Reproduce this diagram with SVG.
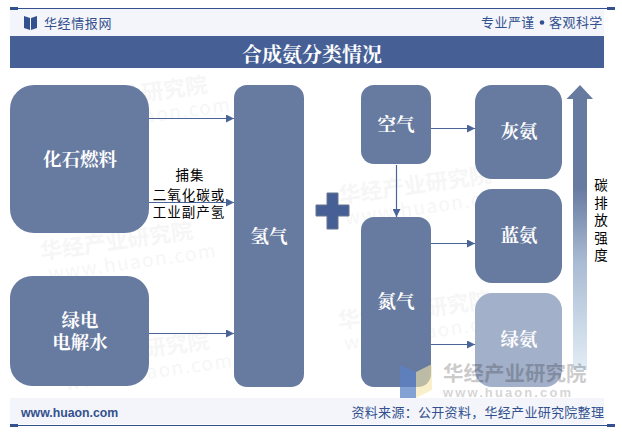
<svg xmlns="http://www.w3.org/2000/svg" width="622" height="435" viewBox="0 0 622 435">
<style>
text{font-family:"Noto Sans CJK SC","Liberation Sans",sans-serif}
.serif{font-family:"Noto Serif CJK SC","Noto Sans CJK SC",serif}
.node{fill:#677aa0}
.lbl{fill:#fff;font-size:18.5px;font-weight:700;text-anchor:middle}
.head{fill:#34518f;font-size:13px;letter-spacing:.6px}
.edge{stroke:#4a6498;stroke-width:1.2;fill:none;marker-end:url(#a)}
.cap{fill:#000;font-size:13.5px;letter-spacing:1px;text-anchor:middle}
.wm{fill:#000;opacity:.03;font-weight:700;font-size:22px}
.wm2{fill:#000;opacity:.03;font-size:19px;letter-spacing:1.5px}
</style>
<defs>
<marker id="a" markerUnits="userSpaceOnUse" markerWidth="9" markerHeight="8" refX="8" refY="4" orient="auto"><path d="M0 0L8 4L0 8Z" fill="#4a6498"/></marker>
<linearGradient id="g" x1="0" y1="0" x2="0" y2="1"><stop offset="0" stop-color="#677aa0"/><stop offset=".36" stop-color="#677aa0"/><stop offset=".62" stop-color="#a9bbd3"/><stop offset="1" stop-color="#e2edf5"/></linearGradient>
</defs>
<rect width="622" height="435" fill="#fff"/>
<g id="watermarks">
<g transform="rotate(-8 180 100)"><text class="wm" x="55" y="96">华经产业研究院</text><text class="wm2" x="60" y="118">www.huaon.com</text></g>
<g transform="rotate(-8 400 180)"><text class="wm" x="337" y="195">华经产业研究院</text><text class="wm2" x="340" y="217">www.huaon.com</text></g>
<g transform="rotate(-8 180 240)"><text class="wm" x="40" y="240">华经产业研究院</text><text class="wm2" x="45" y="262">www.huaon.com</text></g>
<g transform="rotate(-8 400 310)"><text class="wm" x="337" y="320">华经产业研究院</text><text class="wm2" x="340" y="342">www.huaon.com</text></g>
<g transform="rotate(-8 180 340)"><text class="wm" x="55" y="352">华经产业研究院</text><text class="wm2" x="60" y="374">www.huaon.com</text></g>
</g>
<g id="header">
<rect x="10" y="9" width="594" height="27" fill="#f3f5fa"/>
<path d="M10 8.5H615" stroke="#34518f" stroke-width="1"/>
<rect x="10" y="7" width="8" height="3" fill="#34518f"/>
<rect x="607" y="7" width="8" height="3" fill="#34518f"/>
<path d="M24 16L30 18V30L24 28ZM37 16L31 18V30L37 28Z" fill="#34518f" stroke="none"/>
<text class="head" x="44" y="28">华经情报网</text>
<text class="head" x="481" y="27" style="letter-spacing:.45px">专业严谨</text>
<circle cx="542" cy="22.5" r="2.3" fill="#34518f"/>
<text class="head" x="549" y="27" style="letter-spacing:.45px">客观科学</text>
<rect x="10" y="36" width="594" height="32" fill="#466096"/>
<text class="serif" x="312" y="62" fill="#fff" font-size="20" font-weight="700" text-anchor="middle">合成氨分类情况</text>
</g>
<g id="connectors">
<path class="edge" d="M149 118.500H234"/>
<path class="edge" d="M149 202.500H234"/>
<path class="edge" d="M149 333.500H234"/>
<path class="edge" d="M431 128.500H475"/>
<path class="edge" d="M396.500 165V217"/>
<path class="edge" d="M431 243.500H475"/>
<path class="edge" d="M431 344.500H475"/>
</g>
<g id="n-fossil"><rect class="node" x="10" y="85" width="139" height="148" rx="24"/><text class="lbl serif" x="80" y="166">化石燃料</text></g>
<g id="n-green-power"><rect class="node" x="10" y="276" width="139" height="110" rx="22"/><text class="lbl serif" x="80" y="327">绿电</text><text class="lbl serif" x="80" y="349">电解水</text></g>
<g id="n-capture"><text class="cap" x="190" y="180">捕集</text><text class="cap" x="189" y="199.500">二氧化碳或</text><text class="cap" x="189" y="216.500">工业副产氢</text></g>
<g id="n-hydrogen"><rect class="node" x="234" y="85" width="70" height="302" rx="13"/><text class="lbl serif" x="269" y="243">氢气</text></g>
<g id="n-plus"><path d="M327 193H338V205H349V216H338V229H327V216H316V205H327Z" fill="#466096" stroke="#66758f" stroke-width="1"/></g>
<g id="n-air"><rect class="node" x="361" y="85" width="70" height="79" rx="13"/><text class="lbl serif" x="396" y="131">空气</text></g>
<g id="n-nitrogen"><rect class="node" x="361" y="217" width="70" height="170" rx="13"/><text class="lbl serif" x="396" y="308">氮气</text></g>
<g id="n-gray"><rect class="node" x="475" y="85" width="87" height="94" rx="17"/><text class="lbl serif" x="519" y="138">灰氨</text></g>
<g id="n-blue"><rect class="node" x="475" y="189" width="87" height="94" rx="17"/><text class="lbl serif" x="519" y="242">蓝氨</text></g>
<g id="n-green"><rect class="node" x="475" y="293" width="87" height="94" rx="17" style="fill:#a3b0c9"/><text class="lbl serif" x="519" y="346">绿氨</text></g>
<g id="n-arrow"><path d="M573 99H566.500L580 85L593 99H587V370H573Z" fill="url(#g)"/></g>
<g id="n-intensity" fill="#000" font-size="13.500" text-anchor="middle"><text x="601" y="190">碳</text><text x="601" y="207.500">排</text><text x="601" y="225">放</text><text x="601" y="242.500">强</text><text x="601" y="259.500">度</text></g>
<g id="watermark-main">
<path d="M400 365L416 372V398H400Z" fill="#5b82c4" opacity=".75"/>
<path d="M416 372L432 364V390L416 398Z" fill="#f5e6a8" opacity=".6"/>
<text x="443" y="381" fill="#000" opacity=".2" font-size="20.500" font-weight="700">华经产业研究院</text>
<text x="443" y="396.500" fill="#000" opacity=".16" font-size="13" font-weight="700" letter-spacing="2.100" style="font-family:'Liberation Sans',sans-serif">www.huaon.com</text>
</g>
<g id="footer">
<rect x="10" y="398" width="594" height="26" fill="#f3f5fa"/>
<path d="M10 425.500H615" stroke="#34518f" stroke-width="1"/>
<rect x="10" y="424" width="8" height="3" fill="#34518f"/>
<rect x="607" y="424" width="8" height="3" fill="#34518f"/>
<text x="21" y="416.500" fill="#34518f" font-size="12.300" font-weight="700" style="font-family:'Liberation Sans',sans-serif">www.huaon.com</text>
<text class="head" x="351.500" y="417" style="letter-spacing:.3px">资料来源：公开资料，华经产业研究院整理</text>
</g>
</svg>
